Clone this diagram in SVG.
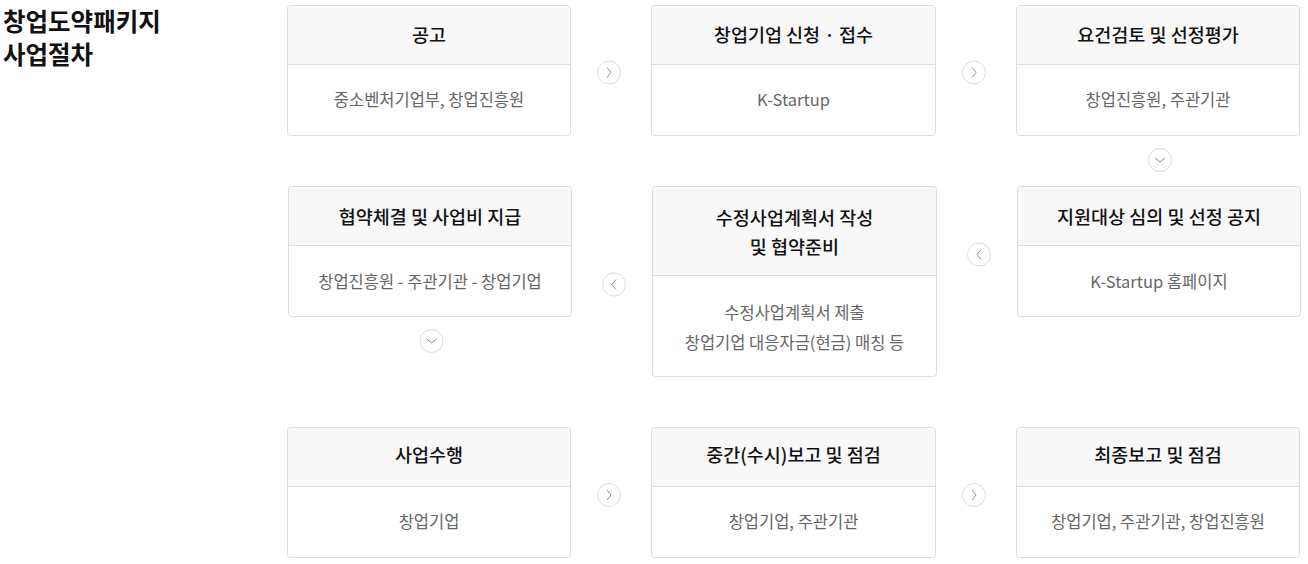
<svg xmlns="http://www.w3.org/2000/svg" width="1308" height="564" viewBox="0 0 1308 564">
<style>
text{font-family:"Noto Sans CJK KR","Noto Sans",sans-serif;}
.title{font-size:24.5px;font-weight:700;fill:#111;letter-spacing:0px;}
.box{fill:#fff;stroke:#ddd;stroke-width:1;}
.hd{fill:#f8f8f8;}
.div{stroke:#ddd;stroke-width:1;}
.h{font-size:18.5px;font-weight:500;fill:#111;text-anchor:middle;}
.b{font-size:16.5px;font-weight:400;fill:#666;text-anchor:middle;}
.c{fill:#fff;stroke:#ddd;stroke-width:1;}
.chev{fill:none;stroke:#8a8fa0;stroke-width:1;}
</style>
<g id="title">
<text class="title" x="3" y="31">창업도약패키지</text>
<text class="title" x="3" y="64">사업절차</text>
</g>

<g id="n1">
<rect class="box" x="287.5" y="5.5" width="283" height="130" rx="3"/>
<path class="hd" d="M288,64 V9 a3,3 0 0 1 3,-3 H567 a3,3 0 0 1 3,3 V64 Z"/>
<line class="div" x1="288" y1="64.5" x2="570" y2="64.5"/>
<text class="h" x="429" y="41.5">공고</text>
<text class="b" x="429" y="106">중소벤처기업부, 창업진흥원</text>
</g>
<g id="n2">
<rect class="box" x="651.5" y="5.5" width="284" height="130" rx="3"/>
<path class="hd" d="M652,64 V9 a3,3 0 0 1 3,-3 H932 a3,3 0 0 1 3,3 V64 Z"/>
<line class="div" x1="652" y1="64.5" x2="935" y2="64.5"/>
<text class="h" x="793.5" y="41.5">창업기업 신청 · 접수</text>
<text class="b" x="793.5" y="106">K-Startup</text>
</g>
<g id="n3">
<rect class="box" x="1016.5" y="5.5" width="283" height="130" rx="3"/>
<path class="hd" d="M1017,64 V9 a3,3 0 0 1 3,-3 H1296 a3,3 0 0 1 3,3 V64 Z"/>
<line class="div" x1="1017" y1="64.5" x2="1299" y2="64.5"/>
<text class="h" x="1158" y="41.5">요건검토 및 선정평가</text>
<text class="b" x="1158" y="106">창업진흥원, 주관기관</text>
</g>

<g id="n4">
<rect class="box" x="288.5" y="186.5" width="283" height="130" rx="3"/>
<path class="hd" d="M289,245 V190 a3,3 0 0 1 3,-3 H568 a3,3 0 0 1 3,3 V245 Z"/>
<line class="div" x1="289" y1="245.5" x2="571" y2="245.5"/>
<text class="h" x="430" y="223.5">협약체결 및 사업비 지급</text>
<text class="b" x="430" y="287.5">창업진흥원 - 주관기관 - 창업기업</text>
</g>
<g id="n5">
<rect class="box" x="652.5" y="186.5" width="284" height="190" rx="3"/>
<path class="hd" d="M653,275 V190 a3,3 0 0 1 3,-3 H933 a3,3 0 0 1 3,3 V275 Z"/>
<line class="div" x1="653" y1="275.5" x2="936" y2="275.5"/>
<text class="h" x="794.5" y="224.5">수정사업계획서 작성</text>
<text class="h" x="794.5" y="253.5">및 협약준비</text>
<text class="b" x="794.5" y="318.5">수정사업계획서 제출</text>
<text class="b" x="794.5" y="349">창업기업 대응자금(현금) 매칭 등</text>
</g>
<g id="n6">
<rect class="box" x="1017.5" y="186.5" width="283" height="130" rx="3"/>
<path class="hd" d="M1018,245 V190 a3,3 0 0 1 3,-3 H1297 a3,3 0 0 1 3,3 V245 Z"/>
<line class="div" x1="1018" y1="245.5" x2="1300" y2="245.5"/>
<text class="h" x="1159" y="223.5">지원대상 심의 및 선정 공지</text>
<text class="b" x="1159" y="287.5">K-Startup 홈페이지</text>
</g>

<g id="n7">
<rect class="box" x="287.5" y="427.5" width="283" height="130" rx="3"/>
<path class="hd" d="M288,486 V431 a3,3 0 0 1 3,-3 H567 a3,3 0 0 1 3,3 V486 Z"/>
<line class="div" x1="288" y1="486.5" x2="570" y2="486.5"/>
<text class="h" x="429" y="462">사업수행</text>
<text class="b" x="429" y="527.5">창업기업</text>
</g>
<g id="n8">
<rect class="box" x="651.5" y="427.5" width="284" height="130" rx="3"/>
<path class="hd" d="M652,486 V431 a3,3 0 0 1 3,-3 H932 a3,3 0 0 1 3,3 V486 Z"/>
<line class="div" x1="652" y1="486.5" x2="935" y2="486.5"/>
<text class="h" x="793.5" y="462">중간(수시)보고 및 점검</text>
<text class="b" x="793.5" y="527.5">창업기업, 주관기관</text>
</g>
<g id="n9">
<rect class="box" x="1016.5" y="427.5" width="283" height="130" rx="3"/>
<path class="hd" d="M1017,486 V431 a3,3 0 0 1 3,-3 H1296 a3,3 0 0 1 3,3 V486 Z"/>
<line class="div" x1="1017" y1="486.5" x2="1299" y2="486.5"/>
<text class="h" x="1158" y="462">최종보고 및 점검</text>
<text class="b" x="1158" y="527.5">창업기업, 주관기관, 창업진흥원</text>
</g>

<g id="connectors">
<circle class="c" cx="609" cy="72.5" r="11.5"/>
<path class="chev" d="M607,67.5 L611,72.5 L607,77.5"/>
<circle class="c" cx="974" cy="72.5" r="11.5"/>
<path class="chev" d="M972,67.5 L976,72.5 L972,77.5"/>
<circle class="c" cx="1160" cy="160" r="11.5"/>
<path class="chev" d="M1155,158 L1160,162 L1165,158"/>
<circle class="c" cx="979" cy="254.5" r="11.5"/>
<path class="chev" d="M981,249.5 L977,254.5 L981,259.5"/>
<circle class="c" cx="614" cy="284.5" r="11.5"/>
<path class="chev" d="M616,279.5 L612,284.5 L616,289.5"/>
<circle class="c" cx="431.5" cy="341" r="11.5"/>
<path class="chev" d="M426.5,339 L431.5,343 L436.5,339"/>
<circle class="c" cx="609" cy="495" r="11.5"/>
<path class="chev" d="M607,490 L611,495 L607,500"/>
<circle class="c" cx="974" cy="495" r="11.5"/>
<path class="chev" d="M972,490 L976,495 L972,500"/>
</g>
</svg>
